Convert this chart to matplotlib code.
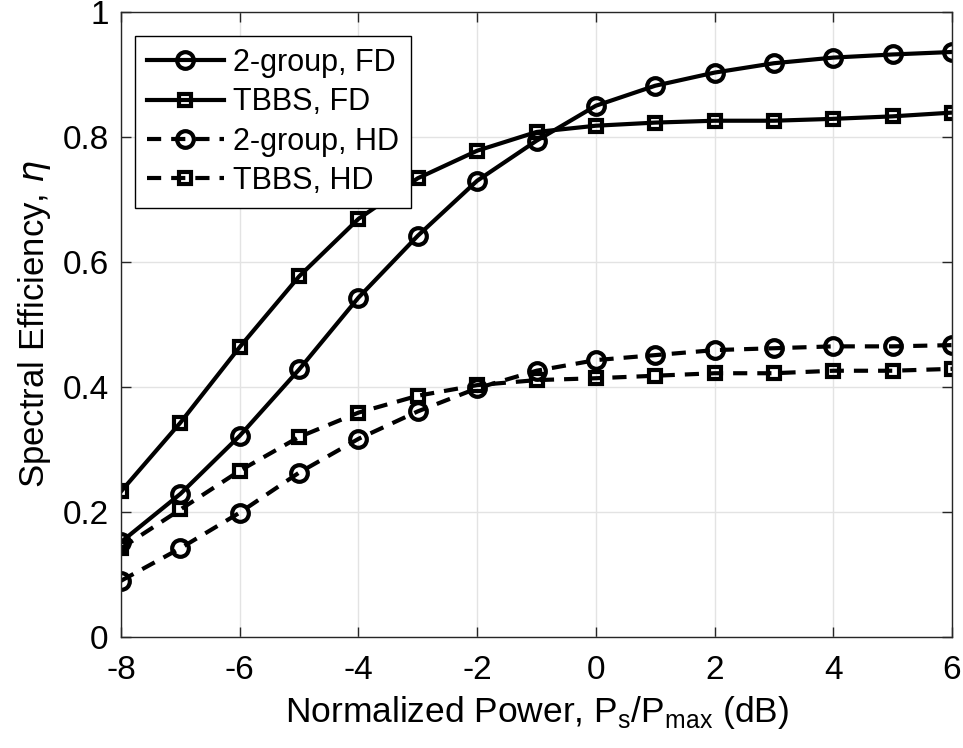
import numpy as np
import matplotlib.pyplot as plt

#====== datos ======
pot_db = [-8, -7, -6, -5, -4, -3, -2, -1, 0, 1, 2, 3, 4, 5, 6]

grp2_fd = [0.152, 0.229, 0.322, 0.428, 0.543, 0.642, 0.730, 0.794, 0.850,
           0.882, 0.903, 0.918, 0.927, 0.932, 0.936]
tbbs_fd = [0.233, 0.343, 0.464, 0.577, 0.669, 0.734, 0.778, 0.808, 0.818,
           0.823, 0.826, 0.826, 0.829, 0.833, 0.839]
grp2_hd = [0.090, 0.142, 0.199, 0.263, 0.317, 0.361, 0.398, 0.426, 0.443,
           0.451, 0.459, 0.462, 0.465, 0.465, 0.467]
tbbs_hd = [0.142, 0.204, 0.266, 0.320, 0.359, 0.386, 0.403, 0.411, 0.414,
           0.418, 0.422, 0.422, 0.426, 0.426, 0.429]

etiquetas = ['2-group, FD', 'TBBS, FD', '2-group, HD', 'TBBS, HD']

plt.rcParams['font.family'] = ['Liberation Sans', 'DejaVu Sans']
plt.rcParams['mathtext.fontset'] = 'dejavusans'
plt.rcParams['axes.unicode_minus'] = False

fig = plt.figure(figsize=(9.63, 7.48), dpi=100)
ax = fig.add_axes([0.1257, 0.1484, 0.8629, 0.8356])

lw = 3.0
base = dict(color='k', lw=lw, mew=3.0, mfc='none', mec='k')
circ = dict(marker='o', ms=12, **base)
cuad = dict(marker='s', ms=8.5, **base)
dash = (3.4, 2.4)

ax.plot(pot_db, grp2_fd, ls='-', label=etiquetas[0], **circ)
ax.plot(pot_db, tbbs_fd, ls='-', label=etiquetas[1], **cuad)
l3, = ax.plot(pot_db, grp2_hd, ls='--', label=etiquetas[2], **circ)
l4, = ax.plot(pot_db, tbbs_hd, ls='--', label=etiquetas[3], **cuad)
l3.set_dashes(dash)
l4.set_dashes(dash)

ax.set_xlim(-8, 6)
ax.set_ylim(0, 1)
ax.set_xticks(np.arange(-8, 7, 2))
ax.set_yticks([0, 0.2, 0.4, 0.6, 0.8, 1])
ax.set_yticklabels(['0', '0.2', '0.4', '0.6', '0.8', '1'])
ax.tick_params(direction='in', top=True, right=True, labelsize=24,
               length=7, width=1, color='#262626')
ax.tick_params(axis='x', pad=13)
ax.tick_params(axis='y', pad=9)
ax.grid(True, color='#e3e3e3', lw=1)
ax.set_axisbelow(True)
for s in ax.spines.values():
    s.set_color('#262626')
    s.set_linewidth(1)

ax.set_xlabel(r'Normalized Power, P$_\mathregular{s}$/P$_\mathregular{max}$ (dB)',
              fontsize=25.5, labelpad=6)
ax.set_ylabel(r'Spectral Efficiency, $\eta$', fontsize=25, labelpad=7)

leg = ax.legend(loc='upper left', bbox_to_anchor=(0.0168, 0.9616),
                borderaxespad=0, fontsize=22, fancybox=False, framealpha=1,
                edgecolor='k', handlelength=2.5, handletextpad=0.3,
                labelspacing=0.3, borderpad=0.4)
leg.get_frame().set_linewidth(1)

fig.savefig('out.png', dpi=100)
